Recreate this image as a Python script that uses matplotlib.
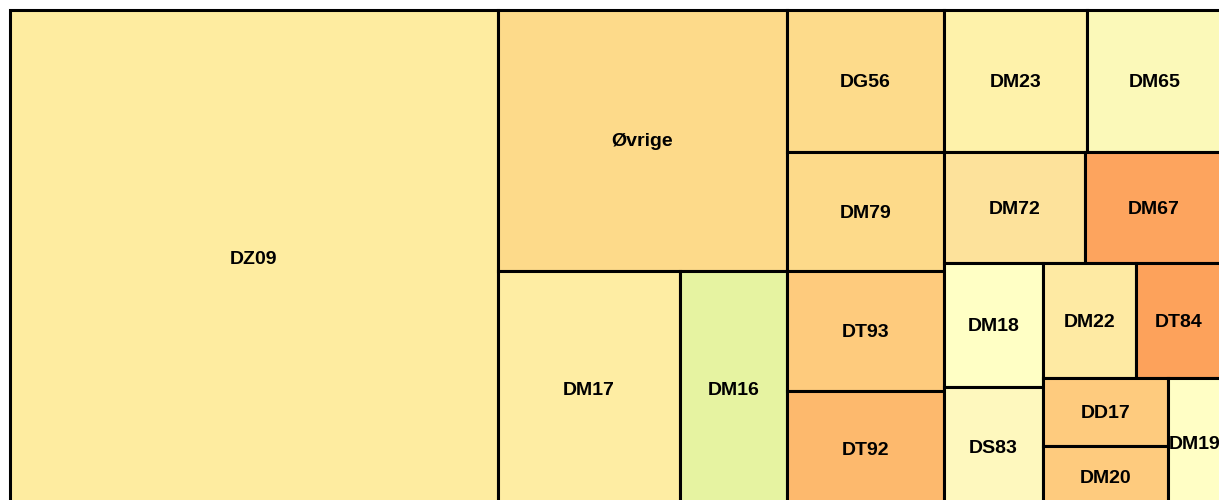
import matplotlib
matplotlib.use("Agg")
import matplotlib.pyplot as plt
from matplotlib.patches import Rectangle

# diagnosis codes, grouped (top level order: group 0, 1, 2)
labels = ["DZ09",
          "Øvrige", "DM17", "DM16",
          "DG56", "DM23", "DM65", "DM79", "DT93", "DT92", "DM72", "DM67",
          "DM18", "DS83", "DM22", "DT84", "DD17", "DM20", "DM19"]
values = [2425,
          754, 430, 253,
          223, 203, 192, 187, 188, 182, 157, 152,
          123, 119, 107, 99, 85, 76, 70]
groups = [0,
          1, 1, 1,
          2, 2, 2, 2, 2, 2, 2, 2,
          2, 2, 2, 2, 2, 2, 2]
colours = ["#FEECA0",
           "#FDDA8A", "#FEEDA3", "#E6F3A1",
           "#FDDB8B", "#FEF2AA", "#FBF9B9", "#FDDA8A", "#FECB7D", "#FDB96D",
           "#FDE29B", "#FDA45E",
           "#FFFFC5", "#FEF8BE", "#FEEAA3", "#FDA25B", "#FECB7E", "#FECB7E",
           "#FFFEC5"]

W, H = 1212.0, 497.0


def aspect(a, b):
    return max(a / b, b / a)


def place(strip, x, y, w, h, d):
    # lay one strip, return rects and the rest of the area
    s = sum(strip)
    rects = []
    if d == 0:
        t = s / h
        yy = y
        for a in strip:
            rects.append((x, yy, t, a / t))
            yy += a / t
        return rects, (x + t, y, w - t, h)
    t = s / w
    xx = x
    for a in strip:
        rects.append((xx, y, a / t, t))
        xx += a / t
    return rects, (x, y + t, w, h - t)


def strip_squarify(x, y, w, h, vals, d):
    # squarified with direction change after each strip
    tot = sum(vals)
    areas = [w * h * v / tot for v in vals]
    out = []
    strip = []
    for a in areas:
        if strip:
            side = h if d == 0 else w
            s_old = sum(strip)
            s_new = s_old + a
            last = strip[-1]
            old_r = aspect(s_old / side, last / (s_old / side))
            new_r = aspect(s_new / side, last / (s_new / side))
            if new_r > old_r:
                rects, (x, y, w, h) = place(strip, x, y, w, h, d)
                out += rects
                d = 1 - d
                strip = []
        strip.append(a)
    rects, _ = place(strip, x, y, w, h, d)
    out += rects
    return out


group_ids = sorted(set(groups))
group_vals = [sum(v for v, g in zip(values, groups) if g == gid) for gid in group_ids]
group_rects = strip_squarify(0, 0, W, H, group_vals, 0)

fig = plt.figure(figsize=(12.19, 5.0), dpi=100)
ax = fig.add_axes([10 / 1219, (500 - 507) / 500, W / 1219, H / 500])
ax.set_xlim(0, W)
ax.set_ylim(H, 0)
ax.axis("off")

for gid, (gx, gy, gw, gh) in zip(group_ids, group_rects):
    idx = [i for i, g in enumerate(groups) if g == gid]
    # children start with the other direction
    cells = strip_squarify(gx, gy, gw, gh, [values[i] for i in idx], 1)
    for i, (cx, cy, cw, ch) in zip(idx, cells):
        ax.add_patch(Rectangle((cx, cy), cw, ch, facecolor=colours[i],
                               edgecolor="black", linewidth=2.2, clip_on=False))
        ax.text(cx + cw / 2, cy + ch / 2 + 1.5, labels[i], ha="center", va="center",
                fontsize=14, fontweight="bold", color="black",
                family="Liberation Sans", clip_on=False)

fig.savefig("out.png", dpi=100)
